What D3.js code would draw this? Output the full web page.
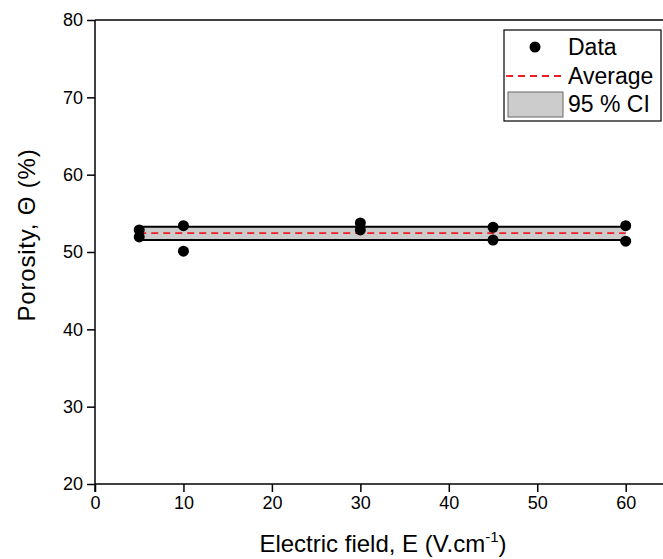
<!DOCTYPE html>
<html>
<head>
<meta charset="utf-8">
<script src="https://cdn.jsdelivr.net/npm/d3@7"></script>
<style>
  body { margin: 0; background: #fff; }
  svg { font-family: Arial, "Liberation Sans", sans-serif; }
  .axis path, .axis line { stroke: #000; stroke-width: 1.5px; }
  .axis text { font-size: 18px; fill: #000; }
</style>
</head>
<body>
<svg id="chart" width="663" height="559"></svg>
<script>
// data
const fieldE = [5, 5, 10, 10, 30, 30, 45, 45, 60, 60];
const porosity = [52.85, 51.95, 53.4, 50.1, 53.75, 52.85, 53.2, 51.55, 53.4, 51.4];
const ciRange = [51.55, 53.25];
const ciSpan = [5, 60];
const xTicks = [0, 10, 20, 30, 40, 50, 60];
const yTicks = [20, 30, 40, 50, 60, 70, 80];
const legendItems = ["Data", "Average", "95 % CI"];

const svg = d3.select("#chart");
const m = { left: 95, top: 20, bottom: 75 };
const W = 663, H = 559;

const x = d3.scaleLinear().domain([0, 65]).range([m.left, m.left + 65 * 8.845]);
const y = d3.scaleLinear().domain([20, 80]).range([H - m.bottom, m.top]);

const avg = d3.mean(porosity);

// CI band
svg.append("rect")
  .attr("x", x(ciSpan[0])).attr("width", x(ciSpan[1]) - x(ciSpan[0]))
  .attr("y", y(ciRange[1])).attr("height", y(ciRange[0]) - y(ciRange[1]))
  .attr("fill", "#cccccc");
ciRange.forEach(v => {
  svg.append("line")
    .attr("x1", x(ciSpan[0])).attr("x2", x(ciSpan[1]))
    .attr("y1", y(v)).attr("y2", y(v))
    .attr("stroke", "#000").attr("stroke-width", 2);
});
// average line
svg.append("line")
  .attr("x1", x(ciSpan[0])).attr("x2", x(ciSpan[1]))
  .attr("y1", y(avg)).attr("y2", y(avg))
  .attr("stroke", "#ee1c24").attr("stroke-width", 1.8)
  .attr("stroke-dasharray", "7,5");

// points
svg.append("g").selectAll("circle")
  .data(fieldE.map((e, i) => [e, porosity[i]]))
  .join("circle")
  .attr("cx", d => x(d[0])).attr("cy", d => y(d[1]))
  .attr("r", 5.5).attr("fill", "#000");

// axes
svg.append("g").attr("class", "axis")
  .attr("transform", `translate(0,${y(20)})`)
  .call(d3.axisBottom(x).tickValues(xTicks).tickSize(8).tickPadding(4).tickSizeOuter(0))
  .call(g => g.select(".domain").attr("d", `M${m.left},0H${W}`));
svg.append("g").attr("class", "axis")
  .attr("transform", `translate(${m.left},0)`)
  .call(d3.axisLeft(y).tickValues(yTicks).tickSize(8).tickPadding(4).tickSizeOuter(0))
  .call(g => g.select(".domain").attr("d", `M0,${y(80)}V${y(20) + 8}`));
// top frame line
svg.append("line")
  .attr("x1", m.left).attr("x2", W).attr("y1", y(80)).attr("y2", y(80))
  .attr("stroke", "#000").attr("stroke-width", 1.5);

// axis titles
const xt = svg.append("text")
  .attr("x", 383).attr("y", 552)
  .attr("text-anchor", "middle").attr("font-size", 24);
xt.append("tspan").text("Electric field, E (V.cm");
xt.append("tspan").attr("font-size", 15).attr("dy", -10).text("-1");
xt.append("tspan").attr("dy", 10).text(")");

svg.append("text")
  .attr("transform", `translate(35,235) rotate(-90)`)
  .attr("text-anchor", "middle").attr("font-size", 24)
  .attr("letter-spacing", 0.8)
  .text("Porosity, Θ (%)");

// legend
const lg = svg.append("g");
lg.append("rect")
  .attr("x", 504).attr("y", 30).attr("width", 157).attr("height", 91)
  .attr("fill", "#fff").attr("stroke", "#000").attr("stroke-width", 1.2);
const rowY = [47, 76, 104];
lg.append("circle").attr("cx", 535).attr("cy", rowY[0]).attr("r", 5.5).attr("fill", "#000");
lg.append("line")
  .attr("x1", 506).attr("x2", 566).attr("y1", rowY[1]).attr("y2", rowY[1])
  .attr("stroke", "#ee1c24").attr("stroke-width", 1.8).attr("stroke-dasharray", "7,5");
lg.append("rect")
  .attr("x", 508).attr("y", rowY[2] - 12).attr("width", 55).attr("height", 25)
  .attr("fill", "#cccccc").attr("stroke", "#666").attr("stroke-width", 1);
legendItems.forEach((t, i) => {
  lg.append("text").attr("x", 568).attr("y", rowY[i] + 8)
    .attr("font-size", 23).text(t);
});
</script>
</body>
</html>
